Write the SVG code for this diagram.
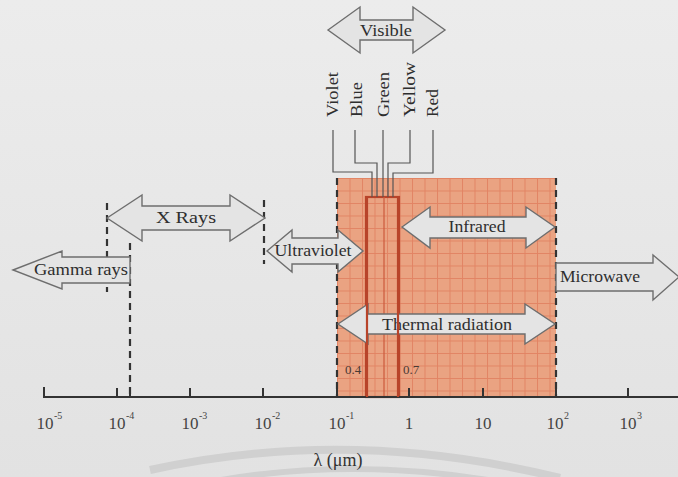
<svg xmlns="http://www.w3.org/2000/svg" width="678" height="477" viewBox="0 0 678 477">
<defs>
<pattern id="grid" x="337" y="178" width="12.5" height="12.5" patternUnits="userSpaceOnUse">
<rect width="12.5" height="12.5" fill="#eaa382"/>
<path d="M0 0.5H12.5M0.5 0V12.5" stroke="#de7454" stroke-width="1" stroke-opacity="0.65" fill="none"/>
</pattern>
<linearGradient id="bg" x1="0" y1="0" x2="0" y2="1">
<stop offset="0" stop-color="#ececec"/>
<stop offset="1" stop-color="#e2e2e2"/>
</linearGradient>
</defs>
<style>
.arr{fill:#e4e4e4;stroke:#6e6e6e;stroke-width:1.4;stroke-linejoin:miter}
.lbl{font-family:"Liberation Serif","Times New Roman",serif;font-size:17px;fill:#2e2e2e;text-anchor:middle}
.clr{font-family:"Liberation Serif","Times New Roman",serif;font-size:17px;fill:#2e2e2e;text-anchor:start}
.ax{font-family:"Liberation Serif","Times New Roman",serif;font-size:17px;fill:#444;text-anchor:middle}
.sup{font-family:"Liberation Serif","Times New Roman",serif;font-size:10px;fill:#444}
.small{font-family:"Liberation Serif","Times New Roman",serif;font-size:13px;fill:#4a3a34;text-anchor:middle}
.unit{font-family:"Liberation Serif","Times New Roman",serif;font-size:18px;fill:#333;text-anchor:middle}
.dash{stroke:#333;stroke-width:2.2;stroke-dasharray:7 5;fill:none}
.wire{stroke:#555;stroke-width:1.2;fill:none}
.tick{stroke:#333;stroke-width:2;fill:none}
.band{stroke:#b8442a;stroke-width:2.2;fill:none}
</style>
<rect width="678" height="477" fill="url(#bg)"/>
<g id="watermark" fill="none" stroke="#d0d0d0">
<path d="M150 470 Q350 426 560 478" stroke-width="8"/>
<path d="M210 482 Q350 456 500 482" stroke-width="6"/>
</g>
<g id="thermal-region">
<rect x="337" y="178" width="219" height="219" fill="url(#grid)"/>
<rect x="366" y="197" width="33" height="200" class="band"/>
<line x1="384" y1="197" x2="384" y2="397" stroke="#cc5a3c" stroke-width="1.2"/>
</g>
<g id="connectors">
<path class="dash" d="M337 178V397"/>
<path class="dash" d="M556 178V397"/>
<path class="dash" d="M107 203V292"/>
<path class="dash" d="M130 243V397"/>
<path class="dash" d="M264 200V264"/>
<path class="wire" d="M333 130V172H372V197"/>
<path class="wire" d="M355 130V163H377V197"/>
<path class="wire" d="M383 130V197"/>
<path class="wire" d="M410 130V163H388V197"/>
<path class="wire" d="M433 130V173H393V197"/>
</g>
<g id="visible">
<path class="arr" d="M328 30L360 7V20H413V7L445 30L413 53V40H360V53Z"/>
<text class="lbl" x="386" y="36" textLength="52" lengthAdjust="spacingAndGlyphs">Visible</text>
</g>
<g id="colors">
<text class="clr" transform="translate(338 117) rotate(-90)" textLength="45" lengthAdjust="spacingAndGlyphs">Violet</text>
<text class="clr" transform="translate(362 117) rotate(-90)" textLength="35" lengthAdjust="spacingAndGlyphs">Blue</text>
<text class="clr" transform="translate(389 117) rotate(-90)" textLength="45" lengthAdjust="spacingAndGlyphs">Green</text>
<text class="clr" transform="translate(415 117) rotate(-90)" textLength="55" lengthAdjust="spacingAndGlyphs">Yellow</text>
<text class="clr" transform="translate(438 117) rotate(-90)" textLength="28" lengthAdjust="spacingAndGlyphs">Red</text>
</g>
<g id="xrays">
<path class="arr" d="M107 218L142 195V206H230V195L265 218L230 241V230H142V241Z"/>
<text class="lbl" x="186" y="223" textLength="60" lengthAdjust="spacingAndGlyphs">X Rays</text>
</g>
<g id="gamma">
<path class="arr" d="M13 270L62 251V257H130V283H62V289Z"/>
<text class="lbl" x="81" y="275" textLength="94" lengthAdjust="spacingAndGlyphs">Gamma rays</text>
</g>
<g id="ultraviolet">
<path class="arr" d="M267 251L292 230V238H338V230L363 251L338 272V264H292V272Z"/>
<text class="lbl" x="313" y="256" textLength="77" lengthAdjust="spacingAndGlyphs">Ultraviolet</text>
</g>
<g id="infrared">
<path class="arr" d="M402 227L430 207V217H526V207L555 227L526 248V238H430V248Z"/>
<text class="lbl" x="477" y="232" textLength="57" lengthAdjust="spacingAndGlyphs">Infrared</text>
</g>
<g id="thermal">
<path class="arr" d="M338 324L368 304V314H525V304L555 324L525 344V334H368V344Z"/>
<text class="lbl" x="447" y="330" textLength="130" lengthAdjust="spacingAndGlyphs">Thermal radiation</text>
</g>
<g id="microwave">
<path class="arr" d="M556 263H653V255L679 277L653 300V291H556Z"/>
<text class="lbl" x="600" y="282" textLength="80" lengthAdjust="spacingAndGlyphs">Microwave</text>
</g>
<g id="axis">
<path class="tick" d="M44 387V397H678"/>
<path class="tick" d="M117 388V397M130 388V397M190 388V397M263 388V397M337 388V397M409 388V397M483 388V397M556 388V397M628 388V397"/>
<path d="M367 197V397M398 197V397" stroke="#b8442a" stroke-width="2.2"/>
<text class="ax" x="45" y="429">10</text><text class="sup" x="54" y="419">-5</text>
<text class="ax" x="117" y="429">10</text><text class="sup" x="126" y="419">-4</text>
<text class="ax" x="190" y="429">10</text><text class="sup" x="199" y="419">-3</text>
<text class="ax" x="263" y="429">10</text><text class="sup" x="272" y="419">-2</text>
<text class="ax" x="337" y="429">10</text><text class="sup" x="346" y="419">-1</text>
<text class="ax" x="409" y="429">1</text>
<text class="ax" x="483" y="429">10</text>
<text class="ax" x="555" y="429">10</text><text class="sup" x="564" y="419">2</text>
<text class="ax" x="628" y="429">10</text><text class="sup" x="637" y="419">3</text>
<text class="small" x="353" y="374">0.4</text>
<text class="small" x="411" y="374">0.7</text>
<text class="unit" x="338" y="466">λ (μm)</text>
</g>
</svg>
